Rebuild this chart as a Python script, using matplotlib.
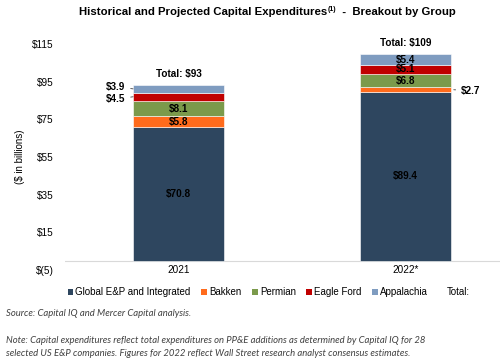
import matplotlib
matplotlib.use("Agg")
import matplotlib.pyplot as plt
from matplotlib.patches import Patch
import numpy as np

plt.rcParams['font.family'] = ['Liberation Sans', 'DejaVu Sans']

# data
years = ["2021", "2022*"]
groups = ["Global E&P and Integrated", "Bakken", "Permian", "Eagle Ford", "Appalachia"]
colors = ["#2E465F", "#FF6B1C", "#7B9A4B", "#C00000", "#7F9CC0"]
values = {
    "Global E&P and Integrated": [70.8, 89.4],
    "Bakken": [5.8, 2.7],
    "Permian": [8.1, 6.8],
    "Eagle Ford": [4.5, 5.1],
    "Appalachia": [3.9, 5.4],
}
totals = ["$93", "$109"]
yticks = [-5, 15, 35, 55, 75, 95, 115]

fig = plt.figure(figsize=(5, 3.63), dpi=100)
ax = fig.add_axes([0.13, 0.256, 0.87, 0.623])

x = np.arange(len(years))
w = 0.4
fs = 7.2
bottom = np.zeros(len(years))
for g, c in zip(groups, colors):
    v = np.array(values[g])
    ax.bar(x, v, w, bottom=bottom, color=c, edgecolor="white", linewidth=0.4)
    for i in range(len(years)):
        mid = bottom[i] + v[i] / 2
        txt = "$%.1f" % v[i]
        if v[i] >= 5:
            ax.text(x[i], mid, txt, ha="center", va="center", fontsize=fs,
                    fontweight="bold", color="black")
        elif i == 0:
            # leader label on the left
            ly = mid + (1.2 if g == "Appalachia" else -1.2)
            ax.annotate(txt, xy=(x[i] - w / 2, mid), xytext=(x[i] - w / 2 - 0.035, ly),
                        ha="right", va="center", fontsize=fs, fontweight="bold",
                        arrowprops=dict(arrowstyle="-", color="#404040", lw=0.6))
        else:
            ax.annotate(txt, xy=(x[i] + w / 2, mid), xytext=(x[i] + w / 2 + 0.045, mid - 0.5),
                        ha="left", va="center", fontsize=fs, fontweight="bold",
                        arrowprops=dict(arrowstyle="-", color="#404040", lw=0.6))
    bottom += v

for i in range(len(years)):
    ax.text(x[i], bottom[i] + 3.5, "Total: " + totals[i], ha="center", va="bottom",
            fontsize=fs, fontweight="bold")

ax.set_xlim(-0.5, 1.416)
ax.set_ylim(-5, 115)
ax.set_yticks(yticks)
ax.set_yticklabels(["$(5)" if t < 0 else "$%d" % t for t in yticks], fontsize=fs)
ax.tick_params(axis="y", length=0, pad=8)
ax.set_xticks([])
for i, y in enumerate(years):
    ax.text(x[i], -5, y, ha="center", va="center", fontsize=fs)
for s in ax.spines.values():
    s.set_visible(False)
ax.axhline(0, color="#D9D9D9", lw=0.8, zorder=0)
ax.set_ylabel("($ in billions)", fontsize=7)
ax.yaxis.set_label_coords(-0.092, 0.5)

# title with a small superscript
r = fig.canvas.get_renderer()
parts = [("Historical and Projected Capital Expenditures", 8.2, 0.967),
         ("(1)", 5.0, 0.975),
         ("  -  Breakout by Group", 8.2, 0.967)]
objs = [fig.text(0, yy, s, fontsize=f, fontweight="bold", va="center") for s, f, yy in parts]
widths = [o.get_window_extent(r).width for o in objs]
xpos = (500 * 0.535 - sum(widths) / 2)
for o, wd in zip(objs, widths):
    o.set_x(xpos / 500)
    xpos += wd

handles = [Patch(facecolor=c) for c in colors] + [Patch(facecolor="none", edgecolor="none")]
fig.legend(handles, groups + ["Total:"], loc="center", bbox_to_anchor=(0.537, 0.195), ncol=6,
           frameon=False, fontsize=7, handlelength=0.6, handleheight=0.6,
           handletextpad=0.2, columnspacing=1.1)

fig.text(0.012, 0.135, "Source: Capital IQ and Mercer Capital analysis.", fontsize=6.8,
         style="italic", family="Lato", color="#404040", va="center")
fig.text(0.012, 0.063, "Note: Capital expenditures reflect total expenditures on PP&E additions as determined by Capital IQ for 28",
         fontsize=6.8, style="italic", family="Lato", color="#404040", va="center")
fig.text(0.012, 0.027, "selected US E&P companies. Figures for 2022 reflect Wall Street research analyst consensus estimates.",
         fontsize=6.8, style="italic", family="Lato", color="#404040", va="center")

fig.savefig("out.png", dpi=100)
